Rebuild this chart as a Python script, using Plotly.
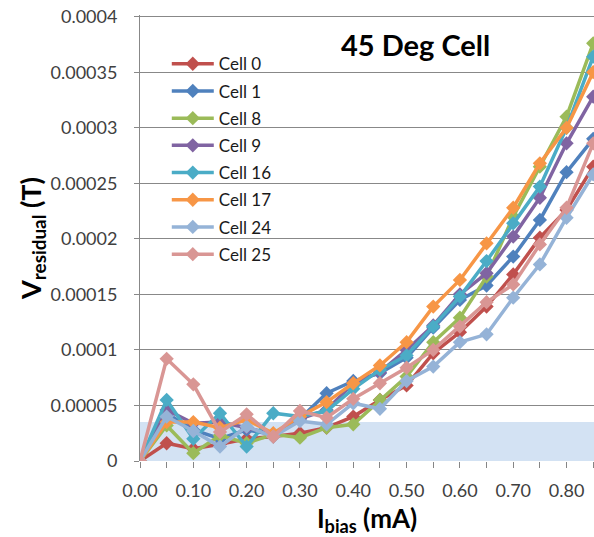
import plotly.graph_objects as go

ibias = [0.00, 0.05, 0.10, 0.15, 0.20, 0.25, 0.30, 0.35, 0.40, 0.45,
         0.50, 0.55, 0.60, 0.65, 0.70, 0.75, 0.80, 0.85]

cell_names = ["Cell 0", "Cell 1", "Cell 8", "Cell 9", "Cell 16", "Cell 17", "Cell 24", "Cell 25"]
cell_colors = ["#C0504D", "#4F81BD", "#9BBB59", "#8064A2", "#4BACC6", "#F79646", "#95B3D7", "#D99694"]

cell0 = [0, 1.6e-5, 1.1e-5, 1.5e-5, 2.0e-5, 2.2e-5, 2.5e-5, 3.0e-5, 4.0e-5, 5.5e-5,
         6.8e-5, 9.7e-5, 1.16e-4, 1.39e-4, 1.68e-4, 2.01e-4, 2.26e-4, 2.65e-4]
cell1 = [0, 4.3e-5, 2.8e-5, 2.0e-5, 2.8e-5, 2.4e-5, 3.8e-5, 6.1e-5, 7.2e-5, 7.9e-5,
         9.3e-5, 1.2e-4, 1.45e-4, 1.58e-4, 1.84e-4, 2.17e-4, 2.6e-4, 2.9e-4]
cell8 = [0, 3.2e-5, 0.7e-5, 2.3e-5, 1.6e-5, 2.4e-5, 2.1e-5, 3.0e-5, 3.3e-5, 5.5e-5,
         7.6e-5, 1.07e-4, 1.29e-4, 1.66e-4, 2.2e-4, 2.65e-4, 3.1e-4, 3.76e-4]
cell9 = [0, 4.6e-5, 3.4e-5, 3.5e-5, 3.0e-5, 2.4e-5, 3.8e-5, 4.6e-5, 7.0e-5, 8.0e-5,
         1.0e-4, 1.22e-4, 1.5e-4, 1.69e-4, 2.02e-4, 2.37e-4, 2.86e-4, 3.28e-4]
cell16 = [0, 5.5e-5, 2.0e-5, 4.3e-5, 1.3e-5, 4.3e-5, 4.0e-5, 4.5e-5, 6.5e-5, 8.2e-5,
          9.5e-5, 1.21e-4, 1.48e-4, 1.8e-4, 2.14e-4, 2.47e-4, 3.0e-4, 3.64e-4]
cell17 = [0, 3.5e-5, 3.5e-5, 3.0e-5, 3.7e-5, 2.5e-5, 4.0e-5, 5.3e-5, 7.0e-5, 8.6e-5,
          1.07e-4, 1.39e-4, 1.63e-4, 1.96e-4, 2.28e-4, 2.68e-4, 3.0e-4, 3.5e-4]
cell24 = [0, 4.0e-5, 2.7e-5, 1.3e-5, 3.1e-5, 2.2e-5, 3.6e-5, 3.3e-5, 5.2e-5, 4.7e-5,
          7.2e-5, 8.5e-5, 1.07e-4, 1.14e-4, 1.47e-4, 1.77e-4, 2.19e-4, 2.58e-4]
cell25 = [0, 9.2e-5, 6.9e-5, 2.6e-5, 4.2e-5, 2.2e-5, 4.5e-5, 3.9e-5, 5.6e-5, 7.0e-5,
          8.4e-5, 1.0e-4, 1.21e-4, 1.43e-4, 1.59e-4, 1.95e-4, 2.28e-4, 2.86e-4]

series = [cell0, cell1, cell8, cell9, cell16, cell17, cell24, cell25]

x_tickvals = ibias
x_ticktext = ["%.2f" % v if i % 2 == 0 else "" for i, v in enumerate(ibias)]
y_tickvals = [0, 0.00005, 0.0001, 0.00015, 0.0002, 0.00025, 0.0003, 0.00035, 0.0004]
y_ticktext = ["0", "0.00005", "0.0001", "0.00015", "0.0002", "0.00025", "0.0003", "0.00035", "0.0004"]

threshold = 0.000035

FONT = "Lato, Calibri, sans-serif"

fig = go.Figure()
for i, (name, color, vals) in enumerate(zip(cell_names, cell_colors, series)):
    fig.add_trace(go.Scatter(
        x=ibias, y=vals, name=name, mode="lines+markers",
        line=dict(color=color, width=3.5),
        marker=dict(symbol="diamond", size=11, color=color),
        legendgroup="g%d" % i,
    ))

fig.add_shape(type="rect", xref="x", yref="y", x0=0, x1=1.0, y0=0, y1=threshold,
              fillcolor="#D3E2F3", line=dict(width=0), layer="below")

fig.add_annotation(text="<b>45 Deg Cell</b>", xref="paper", yref="paper",
                   x=0.606, y=0.933, xanchor="center", yanchor="middle", showarrow=False,
                   font=dict(family=FONT, size=29, color="#000000"))

fig.update_layout(
    width=594, height=537,
    margin=dict(l=140, r=0, t=15, b=76),
    paper_bgcolor="white", plot_bgcolor="white",
    font=dict(family=FONT, size=18, color="#404040"),
    showlegend=True,
    legend=dict(x=0.059, y=0.93, xanchor="left", yanchor="top",
                bgcolor="rgba(0,0,0,0)", tracegroupgap=2.1, itemwidth=42,
                font=dict(family=FONT, size=17, color="#1a1a1a")),
)

fig.update_xaxes(
    range=[0, 0.8515], tickvals=x_tickvals, ticktext=x_ticktext,
    showgrid=False, zeroline=False, showline=False,
    ticks="outside", ticklen=6, tickcolor="#868686", tickwidth=1,
    ticklabelstandoff=7,
    tickfont=dict(family=FONT, size=18, color="#404040"),
    title=dict(text="<b>I<sub>bias</sub> (mA)</b>", standoff=13,
               font=dict(family=FONT, size=26, color="#000000")),
)
fig.update_yaxes(
    range=[0, 0.0004015], tickvals=y_tickvals, ticktext=y_ticktext,
    showgrid=True, gridcolor="#888888", gridwidth=1,
    zeroline=False, showline=True, linecolor="#888888", linewidth=1,
    ticks="outside", ticklen=5, tickcolor="#888888",
    ticklabelstandoff=13, ticklabeloverflow="allow",
    tickfont=dict(family=FONT, size=18, color="#404040"),
    title=dict(text="<b>V<sub>residual</sub> (T)</b>", standoff=0,
               font=dict(family=FONT, size=27, color="#000000")),
)

fig.write_html("out.html", config={"displayModeBar": False},
               post_script="document.body.style.margin='0px';document.body.style.overflow='hidden';")
